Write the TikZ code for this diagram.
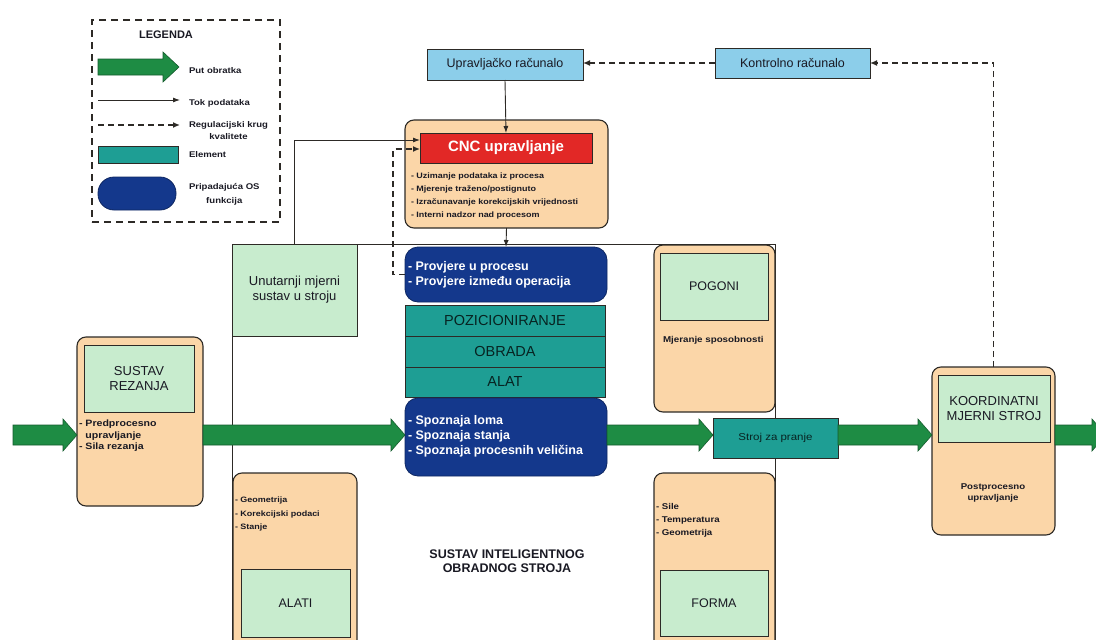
\documentclass[tikz,border=0pt]{standalone}
\usepackage{fontspec}
\setmainfont{Liberation Sans}
\newfontfamily\wf[FakeStretch=1.15]{Liberation Sans}
\usetikzlibrary{arrows.meta,calc}

\definecolor{orfill}{RGB}{251,214,168}
\definecolor{lgreen}{RGB}{200,236,206}
\definecolor{lblue}{RGB}{140,206,234}
\definecolor{cncred}{RGB}{226,40,38}
\definecolor{dblue}{RGB}{20,56,140}
\definecolor{tealc}{RGB}{30,158,148}
\definecolor{pathg}{RGB}{30,140,68}
\definecolor{edgec}{RGB}{45,42,38}
\definecolor{txt}{RGB}{25,25,35}

\newcommand{\blockarr}[5]{%
 \path let \p1=(#1), \p2=(#2) in [fill=pathg, draw=pathg!65!black, line width=0.6pt]
 (\x1,\y1+#3) -- (\x2-#5,\y1+#3) -- (\x2-#5,\y1+#4) -- (\x2,\y1) -- (\x2-#5,\y1-#4) -- (\x2-#5,\y1-#3) -- (\x1,\y1-#3) -- cycle;}

\tikzset{
 every node/.style={inner sep=0pt, outer sep=0pt, text=txt},
 orbox/.style={draw=edgec, line width=1.1pt, fill=orfill, rounded corners=9pt, anchor=north west},
 gbox/.style={draw=edgec, line width=0.9pt, fill=lgreen, anchor=north west, align=center},
 bbox/.style={draw=edgec, line width=0.8pt, fill=lblue, anchor=north west, font=\fontsize{12.5}{14}\selectfont},
 blbox/.style={draw=dblue!70!black, line width=0.8pt, fill=dblue, rounded corners=13pt, anchor=north west},
 tbox/.style={draw=edgec, line width=0.8pt, fill=tealc, anchor=north west, text=tealc!22!black},
 small/.style={font=\wf\bfseries\fontsize{7.8}{12.7}\selectfont, align=left, anchor=west},
 leg/.style={small, font=\wf\bfseries\fontsize{8.3}{12}\selectfont},
 data/.style={draw=edgec, line width=0.9pt, -{Latex[length=7pt,width=5pt]}},
 reg/.style={draw=edgec, line width=1.3pt, dash pattern=on 6pt off 4pt, -{Latex[length=7pt,width=6pt]}},
}

\begin{document}
\begin{tikzpicture}[x=1pt,y=-1pt]
\useasboundingbox (0,0) rectangle (1096,640);

% ---------- legend ----------
\node[draw=edgec, line width=1.3pt, dash pattern=on 7pt off 5pt, anchor=north west, minimum width=188pt, minimum height=202pt] (legend) at (92,20) {};
\node[font=\bfseries\fontsize{11}{13}\selectfont] (legt) at (166,35) {LEGENDA};
\coordinate (lga1) at (98,67); \coordinate (lga2) at (179,67);
\blockarr{lga1}{lga2}{8pt}{15pt}{16pt}
\coordinate (lta1) at (98,100); \coordinate (lta2) at (180,100);
\draw[data] (lta1) -- (lta2);
\coordinate (lra1) at (98,125); \coordinate (lra2) at (180,125);
\draw[reg] (lra1) -- (lra2);
\node[tbox, minimum width=80pt, minimum height=17pt] (lel) at (98,146) {};
\node[blbox, rounded corners=16pt, minimum width=78pt, minimum height=33pt] (lbl) at (98,177) {};
\node[leg] (lt1) at (189,71) {Put obratka};
\node[leg] (lt2) at (189,103) {Tok podataka};
\node[leg, align=center] (lt3) at (189,131) {Regulacijski krug\\kvalitete};
\node[leg] (lt4) at (189,155) {Element};
\node[leg, align=center, font=\wf\bfseries\fontsize{8.3}{14}\selectfont] (lt5) at (189,194) {Pripadajuća OS\\funkcija};

% ---------- computers ----------
\node[bbox, minimum width=156pt, minimum height=31pt] (upr) at (427,49) {Upravljačko računalo};
\node[bbox, minimum width=155pt, minimum height=30pt] (kon) at (715,48) {Kontrolno računalo};

% ---------- CNC ----------
\node[orbox, minimum width=203pt, minimum height=108pt] (cnc) at (405,120) {};
\node[draw=edgec, line width=0.8pt, fill=cncred, anchor=north west, minimum width=172pt, minimum height=30pt, text=white, font=\bfseries\fontsize{15}{17}\selectfont] (cncred) at (420,133) {CNC upravljanje};
\node[small] (cnctxt) at (411,196) {- Uzimanje podataka iz procesa\\- Mjerenje traženo/postignuto\\- Izračunavanje korekcijskih vrijednosti\\- Interni nadzor nad procesom};

% ---------- machine system ----------
\node[draw=edgec, line width=0.9pt, anchor=north west, minimum width=543pt, minimum height=420pt] (sys) at (232,244) {};
\node[gbox, minimum width=125pt, minimum height=92pt, font=\fontsize{13}{15}\selectfont] (unut) at (232,244) {Unutarnji mjerni\\sustav u stroju};

\node[blbox, minimum width=202pt, minimum height=55pt] (prov) at (405,247) {};
\node[anchor=west, text=white, font=\bfseries\fontsize{12.5}{15}\selectfont, align=left] (provtxt) at (408,275) {- Provjere u procesu\\- Provjere između operacija};

\node[tbox, minimum width=200pt, minimum height=31pt, font=\fontsize{14.5}{16}\selectfont] (poz) at (405,305) {POZICIONIRANJE};
\node[tbox, minimum width=200pt, minimum height=31pt, font=\fontsize{14.5}{16}\selectfont] (obr) at (405,336) {OBRADA};
\node[tbox, minimum width=200pt, minimum height=30pt, font=\fontsize{14.5}{16}\selectfont] (alat) at (405,367) {ALAT};

\node[blbox, minimum width=202pt, minimum height=78pt] (spoz) at (405,398) {};
\node[anchor=west, text=white, font=\bfseries\fontsize{12.5}{15}\selectfont, align=left] (spoztxt) at (408,436) {- Spoznaja loma\\- Spoznaja stanja\\- Spoznaja procesnih veličina};

% Pogoni
\node[orbox, minimum width=121pt, minimum height=167pt] (pog) at (654,245) {};
\node[gbox, minimum width=108pt, minimum height=67pt, font=\fontsize{12.5}{15}\selectfont] (pogt) at (660,253) {POGONI};
\node[small, font=\wf\bfseries\fontsize{8.5}{11}\selectfont] (pogtxt) at (663,340) {Mjeranje sposobnosti};

% Forma
\node[orbox, minimum width=121pt, minimum height=185pt] (for) at (654,473) {};
\node[gbox, minimum width=108pt, minimum height=66pt, font=\fontsize{12.5}{15}\selectfont] (fort) at (660,570) {FORMA};
\node[small, font=\wf\bfseries\fontsize{8.4}{13}\selectfont] (fortxt) at (656,520) {- Sile\\- Temperatura\\- Geometrija};

% Alati
\node[orbox, minimum width=124pt, minimum height=185pt] (ala) at (233,473) {};
\node[gbox, minimum width=109pt, minimum height=68pt, font=\fontsize{12.5}{15}\selectfont] (alat2) at (241,569) {ALATI};
\node[small, font=\wf\bfseries\fontsize{7.8}{13.5}\selectfont] (alatxt) at (235,514) {- Geometrija\\- Korekcijski podaci\\- Stanje};

\node[font=\bfseries\fontsize{12.5}{14}\selectfont, align=center] (systxt) at (507,561) {SUSTAV INTELIGENTNOG\\OBRADNOG STROJA};

% Stroj za pranje
\node[tbox, minimum width=125pt, minimum height=40pt, font=\wf\fontsize{10}{12}\selectfont] (wash) at (713,418) {Stroj za pranje};

% ---------- Sustav rezanja ----------
\node[orbox, minimum width=126pt, minimum height=169pt] (rez) at (77,337) {};
\node[gbox, minimum width=110pt, minimum height=67pt, font=\fontsize{13}{15}\selectfont] (rezt) at (84,345) {SUSTAV\\REZANJA};
\node[small, font=\wf\bfseries\fontsize{9.2}{11.5}\selectfont] (reztxt) at (79,436) {- Predprocesno\\\phantom{- }upravljanje\\- Sila rezanja};

% ---------- Koordinatni ----------
\node[orbox, minimum width=123pt, minimum height=168pt] (koord) at (932,367) {};
\node[gbox, minimum width=112pt, minimum height=67pt, font=\fontsize{13}{15}\selectfont] (koordt) at (938,375) {KOORDINATNI\\MJERNI STROJ};
\node[font=\wf\bfseries\fontsize{8.4}{11}\selectfont, align=center] (koordtxt) at (993,493) {Postprocesno\\upravljanje};

% ---------- workpiece flow ----------
\coordinate (pin) at (13,435);
\coordinate (pout) at (1106,435);
\blockarr{pin}{rez.west |- pin}{10pt}{16pt}{14pt}
\blockarr{rez.east |- pin}{spoz.west |- pin}{10pt}{16pt}{14pt}
\blockarr{spoz.east |- pin}{wash.west |- pin}{10pt}{16pt}{14pt}
\blockarr{wash.east |- pin}{koord.west |- pin}{10pt}{16pt}{14pt}
\blockarr{koord.east |- pin}{pout}{10pt}{16pt}{14pt}

% ---------- data & regulation connectors ----------
\draw[data] (upr.south) -- (cncred.north);
\draw[data] (cnc.south) -- (prov.north);
\draw[data] (unut.north) |- ([yshift=8pt]cncred.west);
\coordinate (fbx) at (393,0);
\draw[reg] (prov.west) -- (prov.west -| fbx) |- ([yshift=-1pt]cncred.west);
\draw[reg] (kon.west) -- (kon.west -| upr.east);
\draw[reg] (koord.north) |- (kon.east);
\end{tikzpicture}
\end{document}
